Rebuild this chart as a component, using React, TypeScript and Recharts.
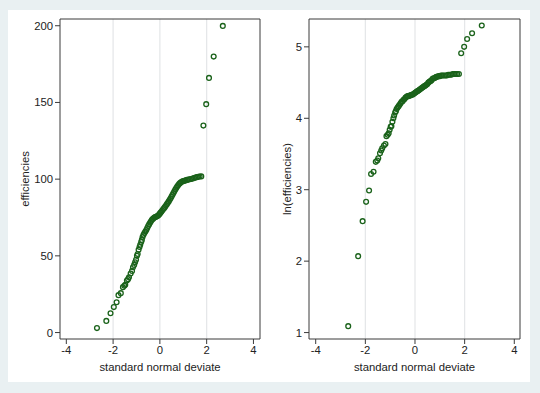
import React from 'react';
import {
  ScatterChart,
  Scatter,
  XAxis,
  YAxis,
  ReferenceLine,
  Label,
} from 'recharts';

// normal quantiles (shared by both panels)
const deviates = [
  -2.69, -2.29, -2.11, -1.97, -1.85, -1.77, -1.67, -1.58, -1.52, -1.48,
  -1.41, -1.36, -1.32, -1.25, -1.19, -1.15, -1.1, -1.06, -1.02, -0.98,
  -0.95, -0.91, -0.87, -0.84, -0.8, -0.77, -0.74, -0.7, -0.66, -0.62,
  -0.58, -0.54, -0.5, -0.46, -0.42, -0.38, -0.34, -0.3, -0.26, -0.22,
  -0.18, -0.14, -0.1, -0.06, -0.02, 0.02, 0.06, 0.1, 0.14, 0.18,
  0.22, 0.26, 0.3, 0.34, 0.38, 0.42, 0.46, 0.5, 0.54, 0.58,
  0.62, 0.66, 0.7, 0.74, 0.78, 0.82, 0.86, 0.9, 0.95, 1.0,
  1.05, 1.1, 1.16, 1.22, 1.28, 1.34, 1.4, 1.46, 1.52, 1.58,
  1.64, 1.7, 1.77, 1.86, 1.98, 2.1, 2.3, 2.69,
];

const efficiencies = [
  2.9, 7.6, 12.6, 16.6, 19.8, 24.4, 25.7, 29.6, 30.5, 31.1,
  33.9, 34.8, 36.1, 38.5, 40.2, 42.6, 44.1, 45.8, 47.4, 50.0,
  51.2, 53.9, 55.8, 57.2, 59.0, 60.4, 62.3, 63.7, 64.9, 65.8,
  66.9, 68.2, 69.4, 70.5, 71.6, 72.6, 73.5, 74.1, 74.7, 75.1,
  75.4, 75.7, 76.0, 76.5, 77.2, 78.0, 78.7, 79.5, 80.3, 81.1,
  81.9, 82.8, 83.7, 84.6, 85.5, 86.5, 87.6, 88.7, 89.8, 91.0,
  92.1, 93.2, 94.2, 95.2, 96.0, 96.8, 97.4, 97.9, 98.4, 98.7,
  99.0, 99.2, 99.5, 99.7, 99.9, 100.1, 100.4, 100.7, 101.0, 101.3,
  101.5, 101.7, 101.8, 134.9, 148.9, 166.0, 179.9, 199.9,
];

const lnEfficiencies = [
  1.09, 2.07, 2.56, 2.83, 2.99, 3.22, 3.25, 3.39, 3.41, 3.44,
  3.51, 3.55, 3.58, 3.62, 3.64, 3.75, 3.77, 3.79, 3.84, 3.88,
  3.89, 3.95, 4.0, 4.04, 4.08, 4.1, 4.13, 4.15, 4.17, 4.19,
  4.21, 4.23, 4.24, 4.26, 4.27, 4.29, 4.3, 4.31, 4.31, 4.32,
  4.32, 4.33, 4.33, 4.34, 4.35, 4.36, 4.37, 4.38, 4.39, 4.4,
  4.41, 4.42, 4.43, 4.44, 4.45, 4.46, 4.47, 4.48, 4.5, 4.51,
  4.52, 4.53, 4.55, 4.56, 4.56, 4.57, 4.58, 4.58, 4.59, 4.59,
  4.6, 4.6, 4.6, 4.6, 4.6, 4.61, 4.61, 4.61, 4.62, 4.62,
  4.62, 4.62, 4.62, 4.91, 5.0, 5.11, 5.19, 5.3,
];

const xTicks = [-4, -2, 0, 2, 4];
const xGrid = [-2, 0, 2];
const effTicks = [0, 50, 100, 150, 200];
const lnTicks = [1, 2, 3, 4, 5];

const FONT = '"Liberation Sans", Arial, sans-serif';
const INK = '#3a3a3a';
const MARKER = '#1a621a';

const Marker = (props: any) => (
  <circle cx={props.cx} cy={props.cy} r={2.4} fill="none" stroke={MARKER} strokeWidth={1.3} />
);

const yTitle = (text: string, x: number) => (props: any) => {
  const vb = props.viewBox;
  const cy = vb.y + vb.height / 2;
  return (
    <text
      x={x}
      y={cy}
      transform={`rotate(-90, ${x}, ${cy})`}
      textAnchor="middle"
      dominantBaseline="central"
      fontSize={11.3}
      fontFamily={FONT}
      fill="#222"
    >
      {text}
    </text>
  );
};

interface PanelProps {
  values: number[];
  xDomain: [number, number];
  yDomain: [number, number];
  yTicks: number[];
  yTitleText: string;
  yTitleX: number;
  yAxisWidth: number;
  rightMargin: number;
  left: number;
}

const Panel: React.FC<PanelProps> = ({
  values, xDomain, yDomain, yTicks, yTitleText, yTitleX, yAxisWidth, rightMargin, left,
}) => {
  const data = deviates.map((d, i) => ({ x: d, y: values[i] }));
  const tickStyle = { fontSize: 11.3, fontFamily: FONT, fill: '#222' };
  return (
    <div style={{ position: 'absolute', left, top: 0 }}>
      <ScatterChart
        width={270}
        height={393}
        margin={{ top: 19, right: rightMargin, bottom: 22, left: 0 }}
      >
        <XAxis
          type="number"
          dataKey="x"
          domain={xDomain}
          ticks={xTicks}
          allowDataOverflow
          height={32}
          tick={tickStyle}
          tickSize={5}
          stroke={INK}
        >
          <Label
            value="standard normal deviate"
            position="insideBottom"
            offset={0}
            style={{ fontSize: 11.3, fontFamily: FONT, fill: '#222' }}
          />
        </XAxis>
        <YAxis
          type="number"
          dataKey="y"
          domain={yDomain}
          ticks={yTicks}
          allowDataOverflow
          width={yAxisWidth}
          tick={tickStyle}
          tickSize={5}
          stroke={INK}
          label={{ content: yTitle(yTitleText, yTitleX) }}
        />
        {xGrid.map((g) => (
          <ReferenceLine key={g} x={g} stroke="#e4e6e8" strokeWidth={1.2} />
        ))}
        {/* plot region frame: top and right edges */}
        <ReferenceLine y={yDomain[1]} stroke={INK} strokeWidth={1} />
        <ReferenceLine x={xDomain[1]} stroke={INK} strokeWidth={1} />
        <Scatter data={data} shape={Marker} isAnimationActive={false} />
      </ScatterChart>
    </div>
  );
};

export default function App() {
  return (
    <div
      style={{
        position: 'absolute',
        left: 0,
        top: 0,
        width: 540,
        height: 393,
        background: '#e9f0f2',
      }}
    >
      <div style={{ position: 'absolute', left: 8, top: 10, width: 522, height: 372, background: '#ffffff' }} />
      <Panel
        values={efficiencies}
        xDomain={[-4.27, 4.28]}
        yDomain={[-4.2, 204.4]}
        yTicks={effTicks}
        yTitleText="efficiencies"
        yTitleX={25}
        yAxisWidth={60}
        rightMargin={10}
        left={0}
      />
      <Panel
        values={lnEfficiencies}
        xDomain={[-4.27, 4.23]}
        yDomain={[0.91, 5.39]}
        yTicks={lnTicks}
        yTitleText="ln(efficiencies)"
        yTitleX={17}
        yAxisWidth={39}
        rightMargin={20}
        left={270}
      />
    </div>
  );
}
